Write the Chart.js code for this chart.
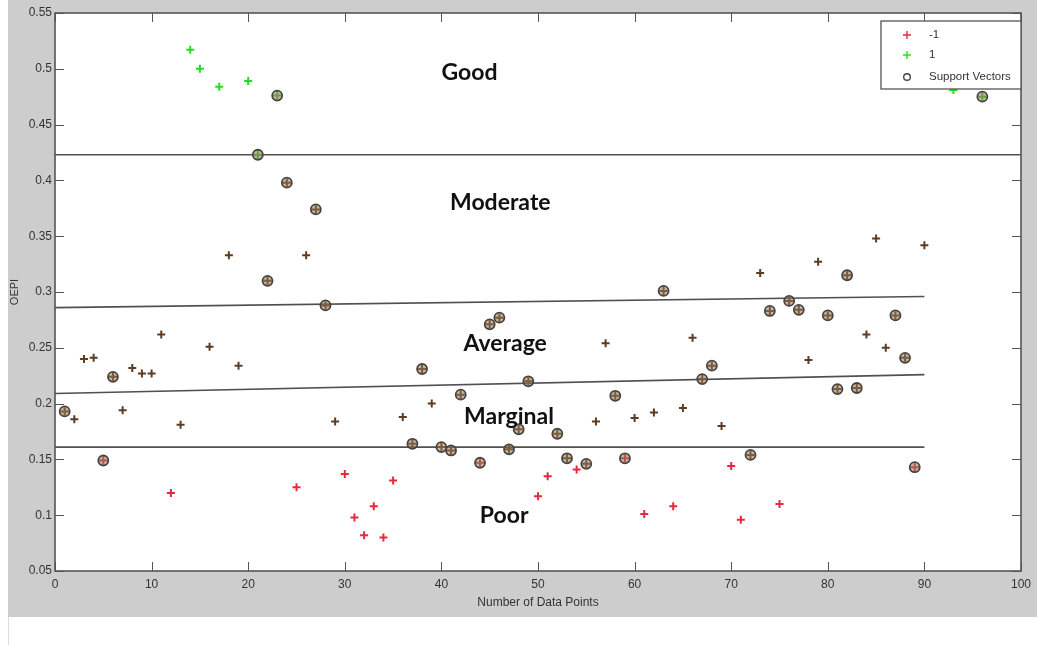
<!DOCTYPE html>
<html>
<head>
<meta charset="utf-8">
<script src="https://cdn.jsdelivr.net/npm/chart.js@4"></script>
<style>
  html, body { margin: 0; padding: 0; background: #fff; }
  #frame { position: absolute; left: 8px; top: 0; width: 1029px; height: 617px; background: #cdcdcd; }
  #edge { position: absolute; left: 8px; top: 617px; width: 1px; height: 28px; background: #ddd; }
</style>
</head>
<body>
<div id="frame"><canvas id="myChart" width="1029" height="617"></canvas></div>
<div id="edge"></div>
<script>
const ctx = document.getElementById("myChart")

// class -1
const negX = [5, 12, 25, 30, 31, 32, 33, 34, 35, 44, 50, 51, 54, 59, 61, 64, 70, 71, 75, 89]
const negY = [0.149, 0.12, 0.125, 0.137, 0.098, 0.082, 0.108, 0.08, 0.131, 0.147, 0.117, 0.135, 0.141, 0.151, 0.101, 0.108, 0.144, 0.096, 0.11, 0.143]
// class 1
const posX = [14, 15, 17, 20, 21, 23, 93, 96]
const posY = [0.517, 0.5, 0.484, 0.489, 0.423, 0.476, 0.481, 0.475]
// points between the two (no legend entry)
const midX = [1, 2, 3, 4, 6, 7, 8, 9, 10, 11, 13, 16, 18, 19, 22, 24, 26, 27, 28, 29, 36, 37, 38, 39, 40, 41, 42,
  45, 46, 47, 48, 49, 52, 53, 55, 56, 57, 58, 60, 62, 63, 65, 66, 67, 68, 69, 72, 73, 74, 76, 77, 78, 79, 80,
  81, 82, 83, 84, 85, 86, 87, 88, 90]
const midY = [0.193, 0.186, 0.24, 0.241, 0.224, 0.194, 0.232, 0.227, 0.227, 0.262, 0.181, 0.251, 0.333, 0.234,
  0.31, 0.398, 0.333, 0.374, 0.288, 0.184, 0.188, 0.164, 0.231, 0.2, 0.161, 0.158, 0.208,
  0.271, 0.277, 0.159, 0.177, 0.22, 0.173, 0.151, 0.146, 0.184, 0.254, 0.207, 0.187, 0.192, 0.301, 0.196, 0.259,
  0.222, 0.234, 0.18, 0.154, 0.317, 0.283, 0.292, 0.284, 0.239, 0.327, 0.279,
  0.213, 0.315, 0.214, 0.262, 0.348, 0.25, 0.279, 0.241, 0.342]
// support vectors (x positions of circled points)
const svX = [1, 5, 6, 21, 22, 23, 24, 27, 28, 37, 38, 40, 41, 42, 44, 45, 46, 47, 48, 49, 52, 53, 55, 58, 59,
  63, 67, 68, 72, 74, 76, 77, 80, 81, 82, 83, 87, 88, 89, 96]

// boundary lines
const goodLineX = [0, 100], goodLineY = [0.423, 0.423]
const modLineX = [0, 90], modLineY = [0.286, 0.296]
const avgLineX = [0, 90], avgLineY = [0.209, 0.226]
const margLineX = [0, 90], margLineY = [0.161, 0.161]

const regionNames = ["Good", "Moderate", "Average", "Marginal", "Poor"]
const regionX = [42.9, 46.1, 46.6, 47, 46.5]
const regionY = [0.497, 0.38, 0.254, 0.188, 0.1]

const xTicks = [0, 10, 20, 30, 40, 50, 60, 70, 80, 90, 100]
const yTicks = [0.05, 0.1, 0.15, 0.2, 0.25, 0.3, 0.35, 0.4, 0.45, 0.5, 0.55]
const legendLabels = ["-1", "1", "Support Vectors"]

const RED = "#e62a3e"
const GREEN = "#22dd22"
const BROWN = "#5e3c22"

const pts = (xs, ys) => xs.map((x, i) => ({ x: x, y: ys[i] }))
const allX = negX.concat(posX, midX)
const allY = negY.concat(posY, midY)
const svPts = svX.map((x) => ({ x: x, y: allY[allX.indexOf(x)] }))

const lineSet = (xs, ys) => ({
  type: "line",
  data: pts(xs, ys),
  borderColor: "#505050",
  borderWidth: 1.6,
  pointRadius: 0,
  showLine: true,
  order: 5,
})

const crossSet = (label, xs, ys, color) => ({
  label: label,
  data: pts(xs, ys),
  pointStyle: "cross",
  pointRadius: 4,
  borderColor: color,
  borderWidth: 2,
  backgroundColor: color,
  order: 2,
})

const extras = {
  id: "extras",
  beforeDraw(chart) {
    const { ctx, chartArea: a } = chart
    ctx.save()
    ctx.fillStyle = "#fff"
    ctx.fillRect(a.left, a.top, a.right - a.left, a.bottom - a.top)
    ctx.restore()
  },
  afterDatasetsDraw(chart) {
    const { ctx, scales } = chart
    ctx.save()
    ctx.fillStyle = "#111"
    ctx.font = "bold 23px Lato"
    ctx.textAlign = "center"
    ctx.textBaseline = "middle"
    regionNames.forEach((name, i) => {
      ctx.fillText(name, scales.x.getPixelForValue(regionX[i]), scales.y.getPixelForValue(regionY[i]))
    })
    ctx.restore()
  },
  afterDraw(chart) {
    const { ctx, chartArea: a, scales } = chart
    ctx.save()
    // inward tick marks
    ctx.strokeStyle = "#555"
    ctx.lineWidth = 1
    const t = 9
    ctx.beginPath()
    xTicks.forEach((v) => {
      const px = Math.round(scales.x.getPixelForValue(v)) + 0.5
      ctx.moveTo(px, a.bottom); ctx.lineTo(px, a.bottom - t)
      ctx.moveTo(px, a.top); ctx.lineTo(px, a.top + t)
    })
    yTicks.forEach((v) => {
      const py = Math.round(scales.y.getPixelForValue(v)) + 0.5
      ctx.moveTo(a.left, py); ctx.lineTo(a.left + t, py)
      ctx.moveTo(a.right, py); ctx.lineTo(a.right - t, py)
    })
    ctx.stroke()
    // box
    ctx.lineWidth = 1.6
    ctx.strokeStyle = "#555"
    ctx.strokeRect(a.left, a.top, a.right - a.left, a.bottom - a.top)

    // legend
    const bx = 873, by = 21, bw = 140, bh = 68
    ctx.fillStyle = "#fff"
    ctx.fillRect(bx, by, bw, bh)
    ctx.lineWidth = 1.3
    ctx.strokeStyle = "#555"
    ctx.strokeRect(bx, by, bw, bh)
    const rows = [14, 34, 56]
    const mx = bx + 26
    ctx.lineWidth = 1.4
    ;[RED, GREEN].forEach((c, i) => {
      ctx.strokeStyle = c
      ctx.beginPath()
      ctx.moveTo(mx - 4, by + rows[i]); ctx.lineTo(mx + 4, by + rows[i])
      ctx.moveTo(mx, by + rows[i] - 4); ctx.lineTo(mx, by + rows[i] + 4)
      ctx.stroke()
    })
    ctx.strokeStyle = "#444"
    ctx.beginPath()
    ctx.arc(mx, by + rows[2], 3.3, 0, Math.PI * 2)
    ctx.stroke()
    ctx.fillStyle = "#333"
    ctx.font = "11.5px 'Liberation Sans'"
    ctx.textAlign = "left"
    ctx.textBaseline = "middle"
    legendLabels.forEach((l, i) => ctx.fillText(l, bx + 48, by + rows[i]))
    ctx.restore()
  },
}

const tickFont = { family: "'Liberation Sans', Arial, sans-serif", size: 12 }

const config = {
  type: "scatter",
  data: {
    datasets: [
      {
        label: "Support Vectors",
        data: svPts,
        pointStyle: "circle",
        pointRadius: 5,
        borderColor: "#474340",
        borderWidth: 1.8,
        backgroundColor: "rgba(150,120,85,0.55)",
        order: 0,
      },
      crossSet("-1", negX, negY, RED),
      crossSet("1", posX, posY, GREEN),
      crossSet("0", midX, midY, BROWN),
      lineSet(goodLineX, goodLineY),
      lineSet(modLineX, modLineY),
      lineSet(avgLineX, avgLineY),
      lineSet(margLineX, margLineY),
    ],
  },
  options: {
    responsive: false,
    animation: false,
    layout: { padding: { top: 13, right: 10, left: 0, bottom: 0 } },
    plugins: {
      legend: { display: false },
      tooltip: { enabled: false },
    },
    scales: {
      x: {
        type: "linear",
        min: 0,
        max: 100,
        afterBuildTicks: (s) => { s.ticks = xTicks.map((v) => ({ value: v })) },
        afterFit: (s) => { s.height = 46 },
        grid: { display: false, drawTicks: false },
        border: { display: false },
        ticks: { padding: 6, color: "#333", font: tickFont, maxRotation: 0, autoSkip: false, callback: (v) => String(v) },
        title: { display: true, text: "Number of Data Points", color: "#333", font: tickFont, padding: { top: 0, bottom: 7 } },
      },
      y: {
        type: "linear",
        min: 0.05,
        max: 0.55,
        afterBuildTicks: (s) => { s.ticks = yTicks.map((v) => ({ value: v })) },
        afterFit: (s) => { s.width = 47 },
        grid: { display: false, drawTicks: false },
        border: { display: false },
        ticks: { padding: 3, color: "#333", font: tickFont, autoSkip: false, callback: (v) => String(+v.toFixed(2)) },
        title: { display: true, text: "OEPI", color: "#333", font: { family: tickFont.family, size: 11 }, padding: { top: 0, bottom: 0 } },
      },
    },
  },
  plugins: [extras],
}

new Chart(ctx, config)
</script>
</body>
</html>
